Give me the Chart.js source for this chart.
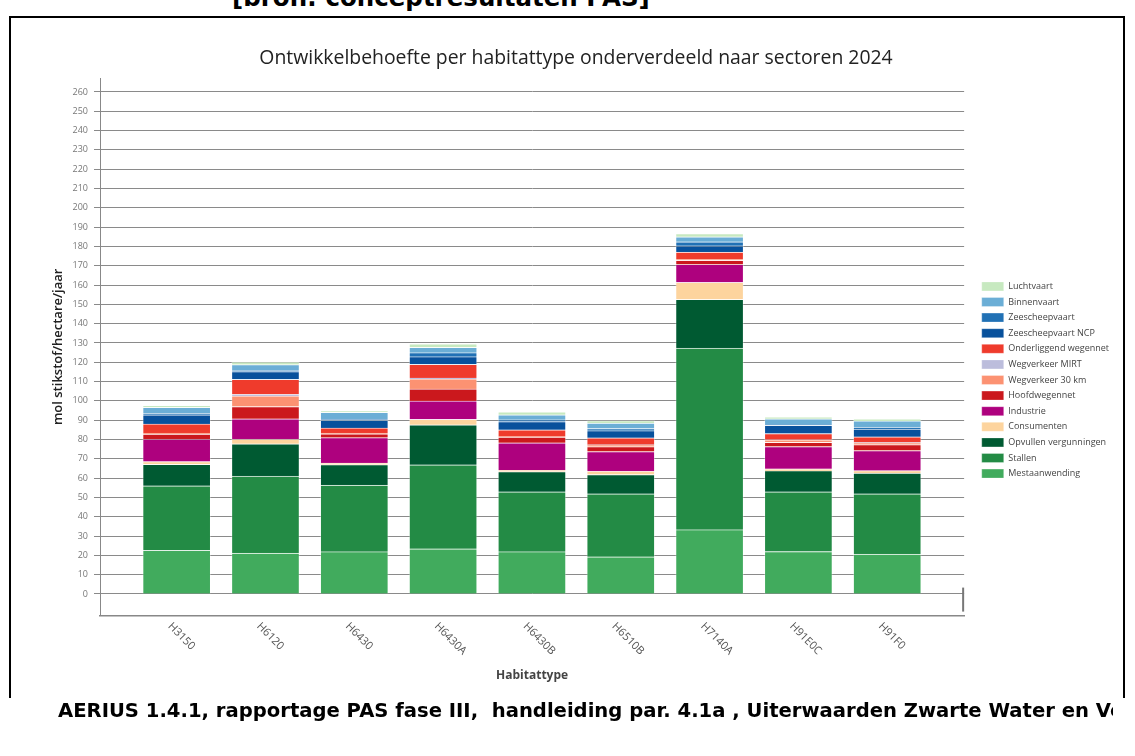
<!DOCTYPE html>
<html>
<head>
<meta charset="utf-8">
<title>Ontwikkelbehoefte per habitattype 2024</title>
<script src="https://cdn.jsdelivr.net/npm/chart.js@4.4.1/dist/chart.umd.min.js"></script>
<style>
  html, body { margin: 0; padding: 0; background: #fff; }
  body { width: 1135px; height: 756px; position: relative; overflow: hidden; }
  #bron { position: absolute; left: 232px; top: -17px; font: bold 24.5px "DejaVu Sans", sans-serif; white-space: nowrap; color: #000; }
  #frame { position: absolute; left: 9px; top: 16px; width: 1112px; height: 680px; border: 2px solid #000; border-bottom: none; }
  #wrap { position: absolute; left: 0; top: 0; width: 1135px; height: 756px; }
  #caption { position: absolute; left: 58px; top: 700px; width: 1055px; overflow: hidden; white-space: nowrap;
             font: bold 19.6px/22px "DejaVu Sans", sans-serif; color: #000; }
</style>
</head>
<body>
<div id="bron">[bron: conceptresultaten PAS]</div>
<div id="frame"></div>
<div id="wrap"><canvas id="sectorChart"></canvas></div>
<div id="caption">AERIUS 1.4.1, rapportage PAS fase III,&nbsp; handleiding par. 4.1a , Uiterwaarden Zwarte Water en Vecht</div>

<script>
// Habitattypes op de x-as
const habitats = ['H3150', 'H6120', 'H6430', 'H6430A', 'H6430B', 'H6510B', 'H7140A', 'H91E0C', 'H91F0'];

// Ontwikkelbehoefte per sector (mol stikstof/hectare/jaar), van onder naar boven gestapeld
const mestaanwending = [22.6, 21.2, 21.9, 23.4, 21.9, 19.3, 33.3, 22.0, 20.7];
const stallen        = [33.4, 39.8, 34.5, 43.5, 31.0, 32.6, 94.0, 30.9, 31.2];
const opvullen       = [11.2, 16.8, 10.6, 20.7, 10.5, 10.0, 25.3, 11.0, 10.7];
const consumenten    = [1.4, 2.4, 0.9, 2.9, 0.7, 1.7, 8.8, 0.9, 1.3];
const industrie      = [11.6, 10.5, 13.1, 9.5, 14.2, 10.2, 9.3, 11.6, 10.4];
const hoofdwegennet  = [2.6, 6.4, 2.0, 6.2, 2.9, 2.6, 2.1, 2.2, 3.1];
const wegverkeer30   = [0.5, 5.5, 0.2, 5.2, 0.3, 0.8, 0.5, 1.2, 1.0];
const wegverkeerMirt = [0.0, 0.8, 0.1, 0.5, 0.0, 0.1, 0.0, 0.1, 0.1];
const onderliggend   = [4.8, 7.8, 2.7, 7.1, 3.5, 3.6, 3.8, 3.2, 2.9];
const zeevaartNcp    = [4.7, 4.0, 3.9, 3.9, 4.3, 3.7, 3.2, 4.3, 4.0];
const zeescheepvaart = [0.8, 0.5, 0.7, 2.1, 0.9, 1.1, 2.1, 0.3, 1.0];
const binnenvaart    = [3.1, 3.1, 3.5, 2.8, 2.6, 2.8, 2.6, 3.0, 3.3];
const luchtvaart     = [0.9, 1.4, 0.8, 1.7, 1.5, 1.3, 1.7, 1.0, 1.0];

// Labels op de y-as
const yTicks = [0, 10, 20, 30, 40, 50, 60, 70, 80, 90, 100, 110, 120, 130, 140, 150,
                160, 170, 180, 190, 200, 210, 220, 230, 240, 250, 260];

const sectors = [
  ['Mestaanwending', mestaanwending, '#41ab5d'],
  ['Stallen', stallen, '#238b45'],
  ['Opvullen vergunningen', opvullen, '#005a32'],
  ['Consumenten', consumenten, '#fdd49e'],
  ['Industrie', industrie, '#ae017e'],
  ['Hoofdwegennet', hoofdwegennet, '#cb181d'],
  ['Wegverkeer 30 km', wegverkeer30, '#fc9272'],
  ['Wegverkeer MIRT', wegverkeerMirt, '#bcbddc'],
  ['Onderliggend wegennet', onderliggend, '#ef3b2c'],
  ['Zeescheepvaart NCP', zeevaartNcp, '#08519c'],
  ['Zeescheepvaart', zeescheepvaart, '#2171b5'],
  ['Binnenvaart', binnenvaart, '#6baed6'],
  ['Luchtvaart', luchtvaart, '#c7e9c0'],
];

const datasets = sectors.map(([label, values, color]) => ({
  label,
  data: values.map((v, i) => ({ x: i, y: v })),
  backgroundColor: color,
  borderColor: 'rgba(255,255,255,0.3)',
  borderWidth: 1,
  barThickness: 68,
}));

// Schuine habitatlabels onder de as, plus het korte stukje rand rechtsonder
const habitatLabels = {
  id: 'habitatLabels',
  afterDraw(chart) {
    const { ctx, chartArea } = chart;
    const x = chart.scales.x;
    ctx.save();
    ctx.font = '11px "Open Sans"';
    ctx.fillStyle = '#555';
    ctx.textAlign = 'left';
    ctx.textBaseline = 'middle';
    habitats.forEach((name, i) => {
      ctx.save();
      ctx.translate(x.getPixelForValue(i) - 7, chartArea.bottom + 9);
      ctx.rotate(Math.PI / 4);
      ctx.fillText(name, 0, 0);
      ctx.restore();
    });
    ctx.strokeStyle = '#777';
    ctx.lineWidth = 2;
    ctx.beginPath();
    ctx.moveTo(chartArea.right - 1, chartArea.bottom - 28);
    ctx.lineTo(chartArea.right - 1, chartArea.bottom - 4);
    ctx.stroke();
    ctx.restore();
  }
};

const ctx = document.getElementById('sectorChart').getContext('2d');
const sectorChart = new Chart(ctx, {
  type: 'bar',
  data: { datasets },
  plugins: [habitatLabels],
  options: {
    responsive: true,
    maintainAspectRatio: false,
    animation: false,
    layout: { padding: { top: 40, bottom: 36, left: 33, right: 16 } },
    plugins: {
      title: {
        display: true,
        text: 'Ontwikkelbehoefte per habitattype onderverdeeld naar sectoren 2024',
        color: '#222',
        font: { family: 'Open Sans', size: 19.4, weight: 'normal' },
        padding: { top: 6.4, bottom: 8.4 },
      },
      legend: {
        position: 'right',
        reverse: true,
        labels: {
          boxWidth: 22,
          boxHeight: 9,
          padding: 6.6,
          color: '#444',
          font: { family: 'Open Sans', size: 9 },
        },
      },
      tooltip: { enabled: false },
    },
    scales: {
      x: {
        type: 'linear',
        stacked: true,
        offset: false,
        min: -0.863,
        max: 8.866,
        grid: { display: false, drawTicks: false },
        border: { display: true, color: '#888', width: 1.5 },
        ticks: { display: false },
        afterBuildTicks: (scale) => { scale.ticks = habitats.map((h, i) => ({ value: i })); },
        title: {
          display: true,
          text: 'Habitattype',
          color: '#444',
          font: { family: 'Open Sans', size: 12, weight: 'bold' },
          padding: { top: 53, bottom: 37 },
        },
      },
      y: {
        stacked: true,
        min: -11.2,
        max: 267.2,
        afterBuildTicks: (scale) => { scale.ticks = yTicks.map(v => ({ value: v })); },
        afterFit: (scale) => { scale.width = 67; },
        grid: { color: '#8a8a8a', lineWidth: 1, tickLength: 6 },
        border: { display: true, color: '#888', width: 1 },
        ticks: {
          padding: 6,
          color: '#777',
          font: { family: 'Open Sans', size: 9 },
          callback: (v) => v,
        },
        title: {
          display: true,
          text: 'mol stikstof/hectare/jaar',
          color: '#222',
          font: { family: 'Open Sans', size: 13, weight: '600' },
          padding: { top: 17, bottom: 4 },
        },
      },
      pad: {
        position: 'right',
        display: true,
        grid: { display: false, drawTicks: false },
        border: { display: false },
        ticks: { display: false },
        afterFit: (scale) => { scale.width = 11; },
      },
    },
  },
});
</script>
</body>
</html>
